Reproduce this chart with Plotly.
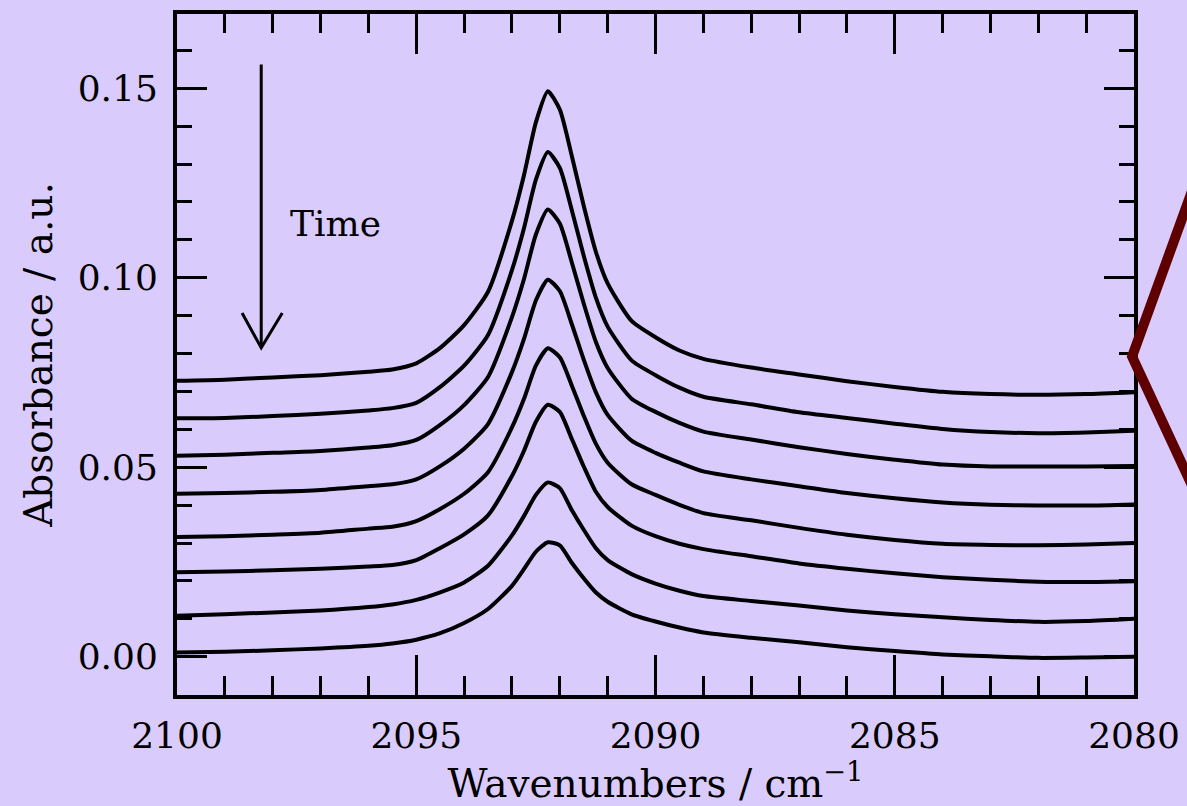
import plotly.graph_objects as go

# ---- data ----
wavenumber = [2100, 2099, 2098, 2097, 2096, 2095.5, 2095, 2094.5, 2094, 2093.5,
              2093, 2092.75, 2092.5, 2092.25, 2092.0, 2091.75, 2091.5, 2091.25,
              2091.0, 2090.5, 2090, 2089.5, 2089, 2088, 2087, 2086, 2085, 2084,
              2083, 2082, 2081, 2080]

spec1 = [0.0728, 0.0731, 0.0737, 0.0743, 0.0752, 0.0758, 0.0774, 0.0815, 0.0875, 0.0963,
         0.1150, 0.1270, 0.1410, 0.1492, 0.1444, 0.1322, 0.1190, 0.1070,
         0.0985, 0.0886, 0.0843, 0.0808, 0.0786, 0.0763, 0.0745, 0.0727, 0.0712, 0.0699,
         0.0693, 0.0691, 0.0693, 0.0698]
spec2 = [0.0629, 0.0630, 0.0635, 0.0641, 0.0650, 0.0656, 0.0670, 0.0712, 0.0768, 0.0849,
         0.1020, 0.1130, 0.1259, 0.1332, 0.1290, 0.1179, 0.1058, 0.0949,
         0.0871, 0.0782, 0.0743, 0.0710, 0.0686, 0.0666, 0.0645, 0.0630, 0.0615, 0.0601,
         0.0593, 0.0590, 0.0592, 0.0596]
spec3 = [0.0530, 0.0533, 0.0538, 0.0543, 0.0552, 0.0558, 0.0572, 0.0612, 0.0664, 0.0738,
         0.0896, 0.0996, 0.1114, 0.1180, 0.1143, 0.1041, 0.0932, 0.0832,
         0.0762, 0.0681, 0.0646, 0.0617, 0.0594, 0.0573, 0.0553, 0.0535, 0.0520, 0.0507,
         0.0502, 0.0502, 0.0502, 0.0503]
spec4 = [0.0430, 0.0432, 0.0435, 0.0440, 0.0450, 0.0455, 0.0468, 0.0503, 0.0549, 0.0614,
         0.0751, 0.0838, 0.0940, 0.0995, 0.0965, 0.0878, 0.0784, 0.0699,
         0.0638, 0.0570, 0.0538, 0.0512, 0.0489, 0.0468, 0.0450, 0.0432, 0.0418, 0.0407,
         0.0401, 0.0399, 0.0399, 0.0402]
spec5 = [0.0316, 0.0318, 0.0322, 0.0327, 0.0338, 0.0343, 0.0358, 0.0390, 0.0430, 0.0487,
         0.0605, 0.0680, 0.0768, 0.0814, 0.0790, 0.0716, 0.0636, 0.0563,
         0.0512, 0.0455, 0.0427, 0.0401, 0.0379, 0.0360, 0.0340, 0.0322, 0.0308, 0.0298,
         0.0295, 0.0294, 0.0296, 0.0300]
spec6 = [0.0223, 0.0225, 0.0228, 0.0232, 0.0238, 0.0242, 0.0255, 0.0287, 0.0323, 0.0373,
         0.0477, 0.0543, 0.0620, 0.0665, 0.0646, 0.0575, 0.0502, 0.0436,
         0.0395, 0.0346, 0.0318, 0.0298, 0.0284, 0.0265, 0.0246, 0.0232, 0.0220, 0.0210,
         0.0203, 0.0198, 0.0197, 0.0199]
spec7 = [0.0108, 0.0112, 0.0117, 0.0122, 0.0131, 0.0138, 0.0150, 0.0170, 0.0196, 0.0240,
         0.0320, 0.0371, 0.0427, 0.0460, 0.0445, 0.0387, 0.0335, 0.0287,
         0.0255, 0.0218, 0.0193, 0.0174, 0.0160, 0.0147, 0.0135, 0.0122, 0.0112, 0.0104,
         0.0097, 0.0092, 0.0094, 0.0100]
spec8 = [0.0011, 0.0013, 0.0017, 0.0022, 0.0029, 0.0035, 0.0045, 0.0062, 0.0089, 0.0126,
         0.0187, 0.0231, 0.0277, 0.0302, 0.0294, 0.0248, 0.0207, 0.0170,
         0.0145, 0.0112, 0.0093, 0.0077, 0.0064, 0.0050, 0.0038, 0.0025, 0.0015, 0.0006,
         0.0001, -0.0003, -0.0002, 0.0000]

spectra = [spec1, spec2, spec3, spec4, spec5, spec6, spec7, spec8]

x_tickvals = [2100, 2095, 2090, 2085, 2080]
x_ticktext = ["2100", "2095", "2090", "2085", "2080"]
y_tickvals = [0.00, 0.05, 0.10, 0.15]
y_ticktext = ["0.00", "0.05", "0.10", "0.15"]

BG = "#d9cbfc"
FONT = "DejaVu Serif"

fig = go.Figure()
for s in spectra:
    fig.add_trace(go.Scatter(x=wavenumber, y=s, mode="lines",
                             line=dict(color="black", width=4, shape="spline",
                                       smoothing=0.6),
                             showlegend=False, hoverinfo="skip"))

fig.update_layout(
    width=1187, height=806,
    paper_bgcolor=BG, plot_bgcolor=BG,
    margin=dict(l=177, r=53, t=14, b=111, autoexpand=False),
    font=dict(family=FONT, color="black"),
    xaxis=dict(
        range=[2100, 2080],
        tickvals=x_tickvals, ticktext=x_ticktext,
        ticks="inside", ticklen=40, tickwidth=3, tickcolor="black",
        showline=True, linewidth=4, linecolor="black", mirror="ticks",
        showgrid=False, zeroline=False,
        minor=dict(dtick=1, tick0=2080, ticks="inside", ticklen=19,
                   tickwidth=3, tickcolor="black", showgrid=False),
        tickfont=dict(family=FONT, size=36, color="black"),
        ticklabelstandoff=6,
        title=dict(text="Wavenumbers / cm<sup>−1</sup>",
                   font=dict(family=FONT, size=39, color="black"),
                   standoff=6),
        automargin=False,
    ),
    yaxis=dict(
        range=[-0.0101, 0.1696],
        tickvals=y_tickvals, ticktext=y_ticktext,
        ticks="inside", ticklen=30, tickwidth=3, tickcolor="black",
        showline=True, linewidth=4, linecolor="black", mirror="ticks",
        showgrid=False, zeroline=False,
        minor=dict(dtick=0.01, tick0=0, ticks="inside", ticklen=15,
                   tickwidth=3, tickcolor="black", showgrid=False),
        tickfont=dict(family=FONT, size=36, color="black"),
        ticklabelstandoff=8,
        title=dict(text="Absorbance / a.u.",
                   font=dict(family=FONT, size=39, color="black"),
                   standoff=14),
        automargin=False,
    ),
)

# "Time" arrow (decoration)
fig.add_shape(type="line", xref="x", yref="y", x0=2098.24, x1=2098.24,
              y0=0.1563, y1=0.0815, line=dict(color="black", width=3))
fig.add_shape(type="path", xref="x", yref="y",
              path="M 2098.64 0.0907 L 2098.24 0.0815 L 2097.80 0.0907",
              line=dict(color="black", width=3))
fig.add_annotation(x=2096.69, y=0.1143, xref="x", yref="y", text="Time",
                   showarrow=False, xanchor="center", yanchor="middle",
                   font=dict(family=FONT, size=36, color="black"))

# dark red chevron on the right edge (decoration)
fig.add_shape(type="path", xref="paper", yref="paper",
              path="M 1.08 0.815 L 0.998 0.497 L 1.08 0.249",
              line=dict(color="#5e0000", width=10))

fig.write_html("out.html")
